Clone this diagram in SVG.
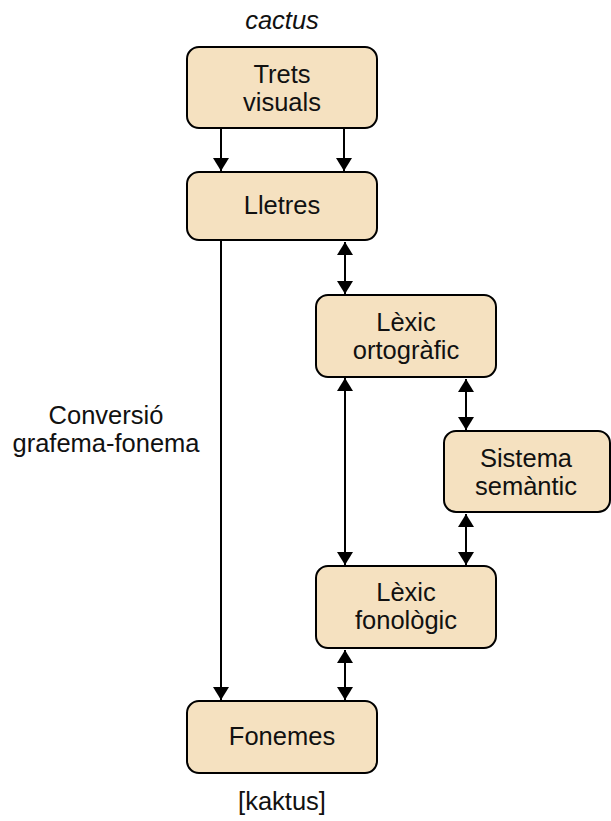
<svg xmlns="http://www.w3.org/2000/svg" width="611" height="821" viewBox="0 0 611 821">
  <style>
    .box { fill: #f5e1c0; stroke: #000; stroke-width: 2; }
    .lbl { font-family: "Liberation Sans", Arial, sans-serif; font-size: 25.5px; fill: #111; text-anchor: middle; }
    .edge { stroke: #000; stroke-width: 2; fill: none; }
  </style>
  <defs>
    <marker id="head" viewBox="0 0 13 16" refX="13" refY="8" markerWidth="6.5" markerHeight="8" orient="auto-start-reverse" markerUnits="strokeWidth">
      <path d="M0,0 L13,8 L0,16 Z" fill="#000"/>
    </marker>
  </defs>

  <text class="lbl" x="282" y="29" font-style="italic">cactus</text>
  <text class="lbl" x="282" y="810">[kaktus]</text>
  <g id="label-conversio">
    <text class="lbl" x="106" y="424">Conversió</text>
    <text class="lbl" x="106" y="452">grafema-fonema</text>
  </g>

  <g id="connectors">
    <line class="edge" x1="221" y1="129" x2="221" y2="171" marker-end="url(#head)"/>
    <line class="edge" x1="344" y1="129" x2="344" y2="171" marker-end="url(#head)"/>
    <line class="edge" x1="221" y1="241" x2="221" y2="700" marker-end="url(#head)"/>
    <line class="edge" x1="345" y1="242" x2="345" y2="294" marker-start="url(#head)" marker-end="url(#head)"/>
    <line class="edge" x1="345" y1="378" x2="345" y2="565" marker-start="url(#head)" marker-end="url(#head)"/>
    <line class="edge" x1="466" y1="379" x2="466" y2="430" marker-start="url(#head)" marker-end="url(#head)"/>
    <line class="edge" x1="466" y1="514" x2="466" y2="565" marker-start="url(#head)" marker-end="url(#head)"/>
    <line class="edge" x1="345" y1="650" x2="345" y2="700" marker-start="url(#head)" marker-end="url(#head)"/>
  </g>

  <g id="trets-visuals">
    <rect class="box" x="187" y="47" width="190" height="81" rx="12"/>
    <text class="lbl" x="282" y="83">Trets</text>
    <text class="lbl" x="282" y="111">visuals</text>
  </g>
  <g id="lletres">
    <rect class="box" x="187" y="172" width="190" height="68" rx="12"/>
    <text class="lbl" x="282" y="214">Lletres</text>
  </g>
  <g id="lexic-ortografic">
    <rect class="box" x="316" y="295" width="180" height="82" rx="12"/>
    <text class="lbl" x="406" y="331">Lèxic</text>
    <text class="lbl" x="406" y="359">ortogràfic</text>
  </g>
  <g id="sistema-semantic">
    <rect class="box" x="444" y="431" width="166" height="81" rx="12"/>
    <text class="lbl" x="526" y="467">Sistema</text>
    <text class="lbl" x="526" y="495">semàntic</text>
  </g>
  <g id="lexic-fonologic">
    <rect class="box" x="316" y="566" width="180" height="82" rx="12"/>
    <text class="lbl" x="406" y="601">Lèxic</text>
    <text class="lbl" x="406" y="629">fonològic</text>
  </g>
  <g id="fonemes">
    <rect class="box" x="187" y="701" width="190" height="72" rx="12"/>
    <text class="lbl" x="282" y="745">Fonemes</text>
  </g>
</svg>
